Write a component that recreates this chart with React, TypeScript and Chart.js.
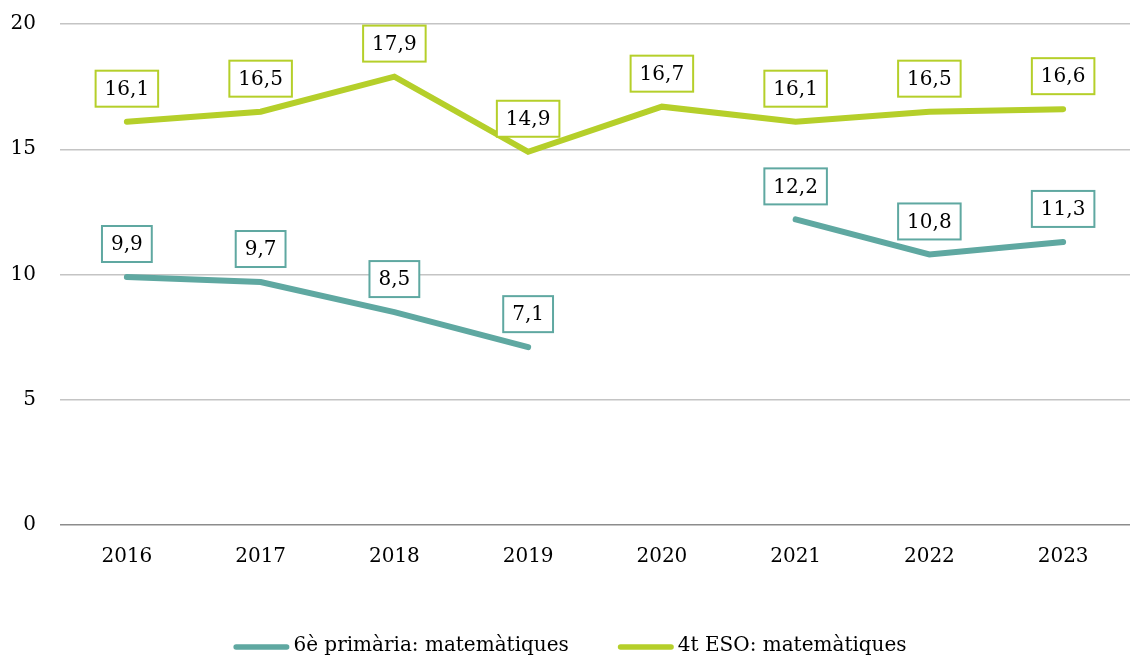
import React, { useEffect, useRef } from "react";
import { Chart, registerables } from "chart.js";

Chart.register(...registerables);

const years = ["2016", "2017", "2018", "2019", "2020", "2021", "2022", "2023"];
const primaria: (number | null)[] = [9.9, 9.7, 8.5, 7.1, null, 12.2, 10.8, 11.3];
const eso: (number | null)[] = [16.1, 16.5, 17.9, 14.9, 16.7, 16.1, 16.5, 16.6];
const seriesNames = ["6è primària: matemàtiques", "4t ESO: matemàtiques"];
const seriesColors = ["#5fa8a1", "#b5cf2a"];

const FONT = "'DejaVu Serif', serif";
const TEXT = "#000000";

const labelPlugin = {
  id: "boxLabels",
  afterDatasetsDraw(chart: any) {
    const ctx = chart.ctx;
    ctx.save();
    ctx.font = `20px ${FONT}`;
    ctx.textAlign = "center";
    ctx.textBaseline = "middle";
    chart.data.datasets.forEach((ds: any, di: number) => {
      const meta = chart.getDatasetMeta(di);
      meta.data.forEach((pt: any, i: number) => {
        const v = ds.data[i];
        if (v === null || v === undefined) return;
        const txt = v.toFixed(1).replace(".", ",");
        const w = ctx.measureText(txt).width + 18;
        const h = 36;
        const bottom = pt.y - 15;
        const top = bottom - h;
        const left = pt.x - w / 2;
        ctx.fillStyle = "#ffffff";
        ctx.fillRect(left, top, w, h);
        ctx.strokeStyle = ds.borderColor;
        ctx.lineWidth = 2;
        ctx.strokeRect(left, top, w, h);
        ctx.fillStyle = TEXT;
        ctx.fillText(txt, pt.x, top + h / 2 + 1);
      });
    });
    ctx.restore();
  },
};

const legendPlugin = {
  id: "customLegend",
  afterDraw(chart: any) {
    const ctx = chart.ctx;
    ctx.save();
    ctx.font = `20px ${FONT}`;
    ctx.textBaseline = "middle";
    ctx.textAlign = "left";
    const sw = 56;
    const gap = 4;
    const between = 49;
    const widths = seriesNames.map((n) => sw + gap + ctx.measureText(n).width);
    const total = widths.reduce((a, b) => a + b, 0) + between;
    let x = 570 - total / 2;
    const y = 647;
    seriesNames.forEach((n, i) => {
      ctx.strokeStyle = seriesColors[i];
      ctx.lineWidth = 5.5;
      ctx.lineCap = "round";
      ctx.beginPath();
      ctx.moveTo(x + 2.75, y);
      ctx.lineTo(x + sw - 2.75, y);
      ctx.stroke();
      ctx.fillStyle = TEXT;
      ctx.fillText(n, x + sw + gap, y - 1);
      x += widths[i] + between;
    });
    ctx.restore();
  },
};

export default function App() {
  const ref = useRef<HTMLCanvasElement>(null);
  useEffect(() => {
    if (!ref.current) return;
    const chart = new Chart(ref.current, {
      type: "line",
      data: {
        labels: years,
        datasets: [
          {
            label: seriesNames[0],
            data: primaria,
            borderColor: seriesColors[0],
            backgroundColor: seriesColors[0],
            borderWidth: 6,
            borderCapStyle: "round",
            borderJoinStyle: "miter",
            pointRadius: 0,
            spanGaps: false,
            tension: 0,
          },
          {
            label: seriesNames[1],
            data: eso,
            borderColor: seriesColors[1],
            backgroundColor: seriesColors[1],
            borderWidth: 6,
            borderCapStyle: "round",
            borderJoinStyle: "miter",
            pointRadius: 0,
            spanGaps: false,
            tension: 0,
          },
        ],
      },
      options: {
        animation: false,
        responsive: false,
        layout: { padding: { top: 24, right: -3, bottom: 0, left: 0 } },
        plugins: {
          legend: { display: false },
          tooltip: { enabled: false },
        },
        scales: {
          x: {
            offset: true,
            grid: { display: false, drawTicks: false },
            border: { display: false },
            ticks: { color: TEXT, font: { family: FONT, size: 20 }, padding: 20, maxRotation: 0 },
            afterFit: (s: any) => {
              s.height = 134;
            },
          },
          y: {
            min: 0,
            max: 20,
            ticks: { stepSize: 5, color: TEXT, font: { family: FONT, size: 20 }, padding: 24 },
            grid: {
              drawTicks: false,
              lineWidth: 1.5,
              color: (c: any) => (c.tick && c.tick.value === 0 ? "#8c8c8c" : "#c4c4c4"),
            },
            border: { display: false },
            afterFit: (s: any) => {
              s.width = 60;
              s.paddingTop = 0;
              s.paddingBottom = 0;
            },
          },
        },
      },
      plugins: [labelPlugin, legendPlugin],
    });
    return () => chart.destroy();
  }, []);
  return (
    <div style={{ position: "absolute", left: 0, top: 0, width: 1130, height: 659, background: "#fff" }}>
      <canvas ref={ref} width={1130} height={659} style={{ display: "block" }} />
    </div>
  );
}
